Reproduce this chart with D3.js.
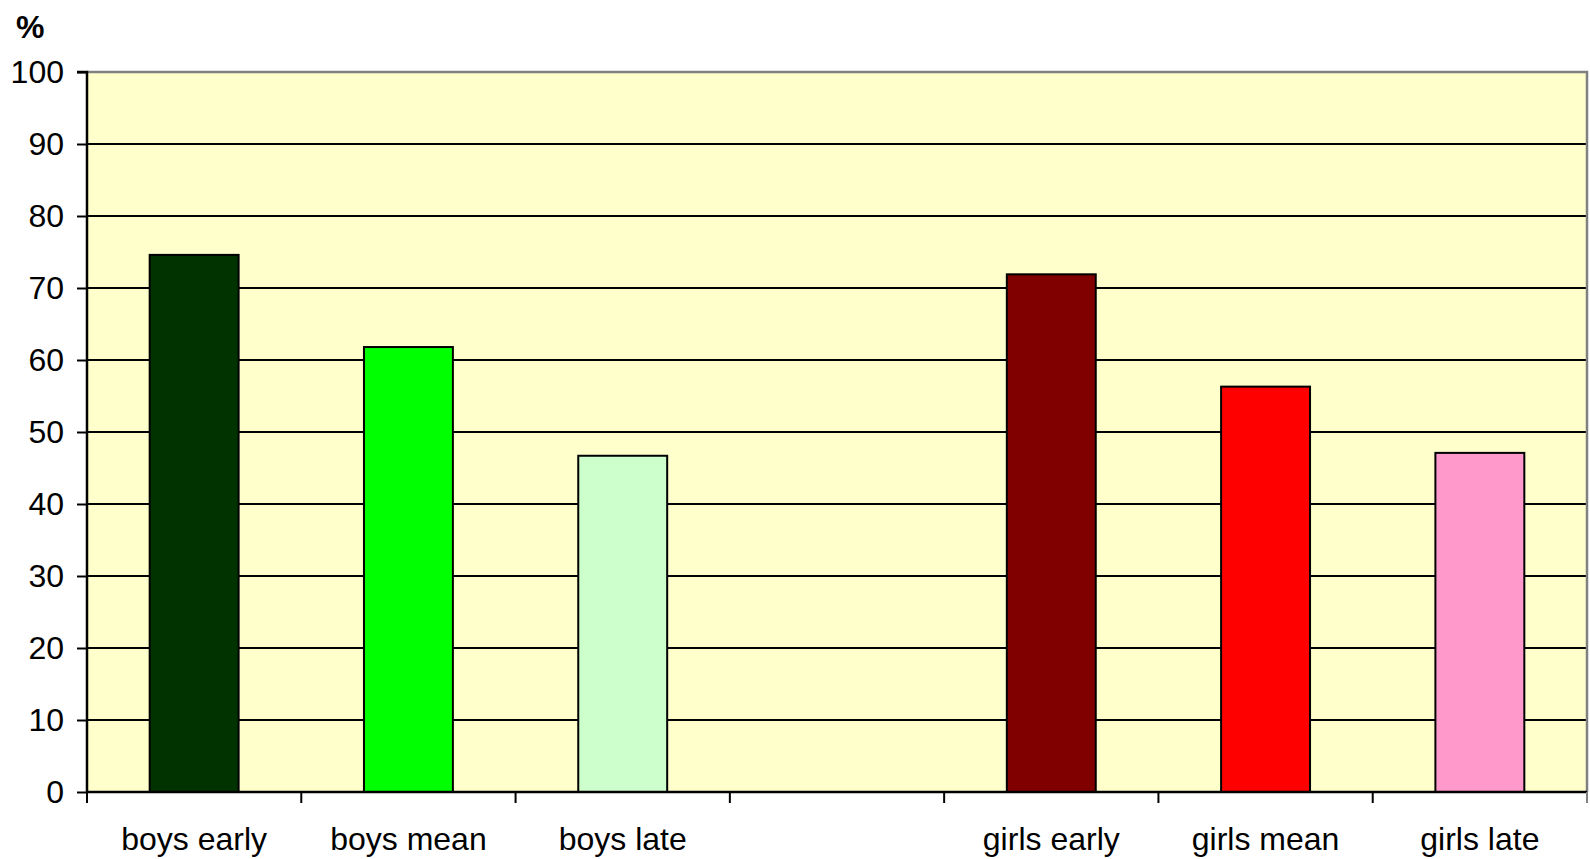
<!DOCTYPE html>
<html>
<head>
<meta charset="utf-8">
<script src="https://cdn.jsdelivr.net/npm/d3@7"></script>
<style>
  body { margin: 0; background: #fff; }
  text { font-family: "Liberation Sans", Arial, sans-serif; }
</style>
</head>
<body>
<div id="chart"></div>
<script>
// Data
var categories = ["boys early", "boys mean", "boys late", "", "girls early", "girls mean", "girls late"];
var values = [74.6, 61.8, 46.7, null, 71.9, 56.3, 47.1];
var colors = ["#003300", "#00ff00", "#ccffcc", null, "#800000", "#ff0000", "#ff99cc"];
var yTicks = [0, 10, 20, 30, 40, 50, 60, 70, 80, 90, 100];

var W = 1590, H = 859;
var margin = {top: 72, right: 3, bottom: 67, left: 87},
    width = W - margin.left - margin.right,
    height = H - margin.top - margin.bottom;

var svg = d3.select("#chart").append("svg")
    .attr("width", W)
    .attr("height", H);

var g = svg.append("g")
    .attr("transform", `translate(${margin.left},${margin.top})`);

// Scales
var x = d3.scaleBand().domain(d3.range(categories.length)).range([0, width]).padding(0);
var y = d3.scaleLinear().domain([0, 100]).range([height, 0]);
var barW = x.bandwidth() * 0.415;

// Plot background
g.append("rect")
    .attr("width", width)
    .attr("height", height)
    .attr("fill", "#ffffcc");

// Gridlines
g.append("g")
    .selectAll("line")
    .data(yTicks.filter(function(d) { return d > 0 && d < 100; }))
    .enter().append("line")
    .attr("x1", 0).attr("x2", width)
    .attr("y1", function(d) { return y(d); })
    .attr("y2", function(d) { return y(d); })
    .attr("stroke", "#000")
    .attr("stroke-width", 1.8);

// Top / right border in grey
g.append("path")
    .attr("d", `M0,${y(100)}H${width}V${height}`)
    .attr("fill", "none")
    .attr("stroke", "#808080")
    .attr("stroke-width", 2.5);

// Bars
g.selectAll(".bar")
    .data(values.map(function(v, i) { return {v: v, i: i}; }).filter(function(d) { return d.v != null; }))
    .enter().append("rect")
    .attr("class", "bar")
    .attr("x", function(d) { return x(d.i) + (x.bandwidth() - barW) / 2; })
    .attr("y", function(d) { return y(d.v); })
    .attr("width", barW)
    .attr("height", function(d) { return height - y(d.v); })
    .attr("fill", function(d) { return colors[d.i]; })
    .attr("stroke", "#000")
    .attr("stroke-width", 2);

// Y axis
var yAxis = d3.axisLeft(y).tickValues(yTicks).tickSize(10).tickPadding(13);
var ya = g.append("g").call(yAxis);
ya.select(".domain").attr("stroke", "#000").attr("stroke-width", 2.5).attr("d", `M-10,0H0V${height}`);
ya.selectAll(".tick line").attr("stroke", "#000").attr("stroke-width", 2);
ya.selectAll(".tick text").style("font-size", "32px").attr("fill", "#000");

// X axis, ticks on category boundaries
var xa = g.append("g").attr("transform", `translate(0,${height})`);
xa.append("line")
    .attr("x1", 0).attr("x2", width)
    .attr("stroke", "#000").attr("stroke-width", 2.5);
xa.selectAll(".xtick")
    .data(d3.range(categories.length + 1))
    .enter().append("line")
    .attr("x1", function(d) { return d * x.step(); })
    .attr("x2", function(d) { return d * x.step(); })
    .attr("y1", 0).attr("y2", 11)
    .attr("stroke", function(d) { return d === categories.length ? "#808080" : "#000"; })
    .attr("stroke-width", 2);
xa.selectAll(".xlabel")
    .data(categories)
    .enter().append("text")
    .attr("x", function(d, i) { return x(i) + x.bandwidth() / 2; })
    .attr("y", 58)
    .attr("text-anchor", "middle")
    .style("font-size", "32px")
    .text(function(d) { return d; });

// Unit label
svg.append("text")
    .attr("x", 16)
    .attr("y", 38)
    .style("font-size", "32px")
    .style("font-weight", "bold")
    .text("%");
</script>
</body>
</html>
